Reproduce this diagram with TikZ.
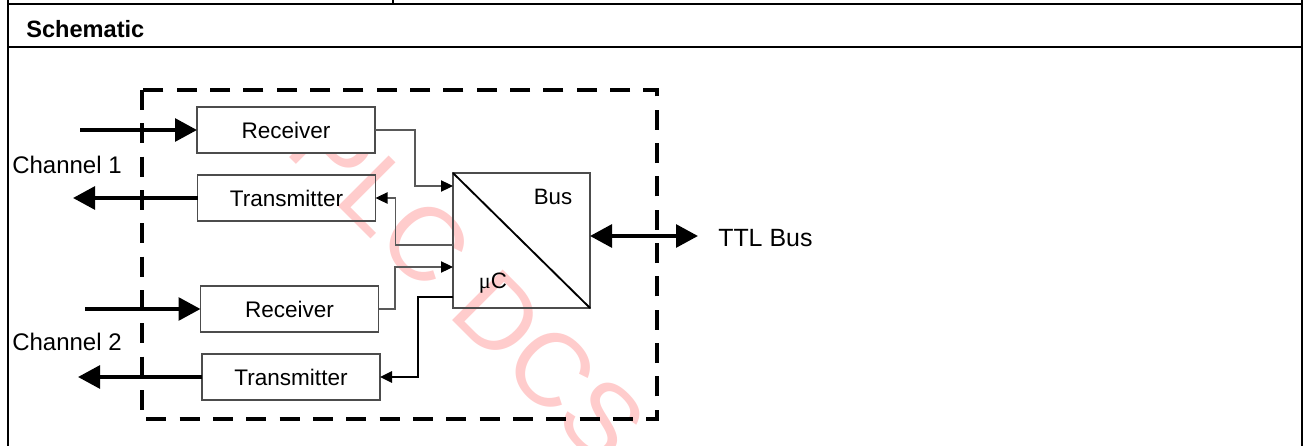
\documentclass[tikz,border=0pt]{standalone}
\usepackage{fontspec}
\setmainfont{Liberation Sans}
\newfontfamily\serifmu{Liberation Serif}
\usetikzlibrary{arrows.meta,calc}
\begin{document}
\begin{tikzpicture}[x=0.75pt,y=-0.75pt,
  frame/.style={line width=1.8pt,black},
  blk/.style={draw=black!70,line width=0.8pt,minimum width=133.5pt,minimum height=34.5pt,inner sep=0pt,outer sep=0pt,font=\fontsize{16.9}{18}\selectfont},
  conn/.style={draw=black!65,line width=0.8pt,-{Triangle[length=9pt,width=8.5pt,color=black]}},
  connb/.style={draw=black,line width=1.5pt,-{Triangle[length=9pt,width=8.5pt]}},
  big/.style={line width=3pt,-{Triangle[length=16.5pt,width=17pt]}},
  bigb/.style={line width=3pt,{Triangle[length=16.5pt,width=17pt]}-{Triangle[length=16.5pt,width=17pt]}},
  lbl/.style={inner sep=0pt,anchor=west,font=\fontsize{18}{20}\selectfont},
  dashbox/.style={line width=2.3pt,dash pattern=on 15pt off 10pt}
]
\useasboundingbox (0,0) rectangle (1304,446);
% table frame
\draw[frame] (8,4) -- (1302,4);
\draw[frame] (393,0) -- (393,4);
\draw[frame] (8,0) -- (8,446);
\draw[frame] (1302,0) -- (1302,446);
\draw[line width=1.5pt] (8,47) -- (1302,47);
\node[inner sep=0pt,anchor=west,font=\bfseries\fontsize{17.7}{20}\selectfont] (title) at (26,29) {Schematic};
% watermark
\begin{scope}
\clip (142,107) rectangle (1300,446);
\node[rotate=-45,anchor=base west,inner sep=0pt,text=red!20,font=\fontsize{78}{78}\selectfont] (wm) at (283,151) {PLC DCS};
\end{scope}
% dashed enclosure
\draw[dashbox] (142,90) rectangle (657,419);
% blocks
\node[blk,fill=white] (R1) at (286,130) {Receiver};
\node[blk] (T1) at (286.5,198) {Transmitter};
\node[blk,fill=white] (R2) at (289.5,309) {Receiver};
\node[blk] (T2) at (291,377) {Transmitter};
\node[draw=black!70,line width=0.8pt,minimum width=102.75pt,minimum height=101.25pt,inner sep=0pt,outer sep=0pt] (Bus) at (521.5,240.5) {};
\draw[line width=1.4pt] (Bus.north west) -- (Bus.south east);
\node[font=\fontsize{16.7}{18}\selectfont,inner sep=0pt] (bustxt) at (553,197) {Bus};
\node[font=\fontsize{16.7}{18}\selectfont,inner sep=0pt] (uc) at (493,283) {{\serifmu μ}C};
% internal connectors
\draw[conn] (R1.east) -| ($(Bus.north west)+(-38,13)$) -- ($(Bus.north west)+(0,13)$);
\draw[conn] ($(Bus.north west)+(0,72)$) -| ($(T1.east)+(20,0)$) -- (T1.east);
\draw[conn] (R2.east) -| ($(Bus.north west)+(-58,94)$) -- ($(Bus.north west)+(0,94)$);
\draw[connb] ($(Bus.north west)+(0,124)$) -| ($(T2.east)+(38,0)$) -- (T2.east);
% external arrows
\coordinate (in1) at (80,130);
\coordinate (out1) at (73,198);
\coordinate (in2) at (85,309);
\coordinate (out2) at (78,377);
\coordinate (ttl) at (698,236);
\draw[big] (in1) -- (R1.west);
\draw[big] (T1.west) -- (out1);
\draw[big] (in2) -- (R2.west);
\draw[big] (T2.west) -- (out2);
\draw[bigb] (Bus.east |- ttl) -- (ttl);
% labels
\node[lbl] (ch1) at (12,165) {Channel 1};
\node[lbl] (ch2) at (12,342) {Channel 2};
\node[lbl,font=\fontsize{18.7}{20}\selectfont] (ttlbus) at (718,238) {TTL Bus};
\end{tikzpicture}
\end{document}
